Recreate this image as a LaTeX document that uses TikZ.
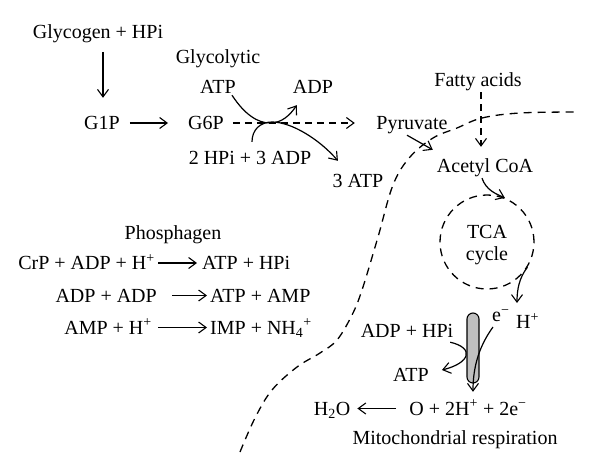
\documentclass[tikz,border=0pt]{standalone}
\usepackage{fontspec}
\setmainfont{Liberation Serif}
\usetikzlibrary{arrows.meta}
\begin{document}
\begin{tikzpicture}[x=1pt,y=-1pt,
  txt/.style={font=\fontsize{20}{20}\selectfont, inner xsep=3pt, inner ysep=0pt, text height=13.2pt, text depth=0pt},
  stxt/.style={font=\fontsize{20}{20}\selectfont, inner sep=0pt, text depth=0pt},
  arr/.style={line width=1.2pt, -{Straight Barb[length=7.5pt,width=11pt,line width=1.1pt]}},
  darr/.style={arr, dash pattern=on 7pt off 5pt},
  bound/.style={line width=1.3pt, dash pattern=on 8pt off 6pt},
  rodbox/.style={draw, line width=1.1pt, fill=gray!50, rounded corners=6pt, minimum width=12pt, minimum height=70pt, inner sep=0pt},
  cyc/.style={draw, circle, line width=1.3pt, dash pattern=on 8pt off 6pt, minimum size=94pt, inner sep=0pt}]
\useasboundingbox (0,0) rectangle (600,474);

% boundary
\draw[bound] plot[smooth, tension=0.6] coordinates {(240,452) (255,418) (272,390) (297,367) (320,353) (337,340) (352,315) (362,290) (378,237) (393,185) (410,157) (433,138) (457,128) (482,118) (520,113) (578,112)};

% glycogen / glycolysis
\node[txt] (gly) at (98,32) {Glycogen + HPi};
\node[txt] (g1p) at (102,123) {G1P};
\node[txt] (g6p) at (206,123) {G6P};
\node[txt] (glyc) at (218,57) {Glycolytic};
\node[txt] (atp1) at (218,87) {ATP};
\node[txt] (adp1) at (313,86.5) {ADP};
\node[txt] (hpi) at (250,158) {2 HPi + 3 ADP};
\node[txt] (atp3) at (358,181) {3 ATP};
\node[txt] (pyr) at (412,123) {Pyruvate};
\node[txt] (fa) at (478,80) {Fatty acids};
\node[txt] (acoa) at (485,166) {Acetyl CoA};

\draw[arr] ([xshift=5pt,yshift=-13pt]gly.south) -- ([xshift=1pt,yshift=18.4pt]g1p.north);
\draw[arr, shorten <=7pt, shorten >=17pt] (g1p.east) -- (g6p.west);
\draw[darr, shorten <=6pt, shorten >=18.5pt] (g6p.east) -- (pyr.west);
\draw[arr] ([xshift=-7pt,yshift=-1.4pt]atp1.south east) .. controls (245,115) and (258,123) .. (270,123) .. controls (282,123) and (290,115) .. ([xshift=7pt,yshift=-11.9pt]adp1.south west);
\draw[arr] ([xshift=2pt,yshift=9.4pt]hpi.north) .. controls (252,130) and (260,122) .. (272,122) .. controls (292,122) and (320,140) .. ([xshift=8.4pt,yshift=13.4pt]atp3.north west);
\draw[arr] ([xshift=-5pt,yshift=-5.4pt]pyr.south) -- ([xshift=-1pt,yshift=9.4pt]acoa.north west);
\draw[darr] ([xshift=3pt,yshift=-5.4pt]fa.south) -- ([xshift=-4pt,yshift=12.4pt]acoa.north);

% TCA
\node[cyc] (tca) at (487,242) {};
\node[txt] (tcat) at (487,232) {TCA};
\node[txt, anchor=south] (tcac) at (487,260.7) {cycle};
\draw[arr] ([xshift=-3pt,yshift=-5.4pt]acoa.south) .. controls (486,190) and (496,194) .. (tca.68);
\coordinate (tcaout) at (517,303);
\draw[arr] (tca.-32) .. controls (519,278) and (517,290) .. (tcaout);

% respiration
\node[stxt, anchor=south west] (em) at (492,322) {e\textsuperscript{−}};
\node[stxt, anchor=south west] (hp) at (516,329) {H\textsuperscript{+}};
\node[txt] (adph) at (407,331) {ADP + HPi};
\node[txt] (atp2) at (411,374.5) {ATP};
\node[txt] (o2) at (468,408.5) {O + 2H\textsuperscript{+} + 2e\textsuperscript{−}};
\node[txt] (h2o) at (332,408.5) {H\textsubscript{2}O};
\node[txt] (mito) at (455,438) {Mitochondrial respiration};
\draw[arr] ([xshift=-6.2pt,yshift=-4.4pt]adph.south east) .. controls (475,348) and (470,363) .. ([xshift=10pt,yshift=4.5pt]atp2.east);
\node[rodbox] (rod) at (473,348) {};
\draw[arr] ([xshift=1pt,yshift=-5pt]em.south west) .. controls (480,345) and (473,365) .. ([xshift=5pt,yshift=9.9pt]o2.north);
\draw[arr, shorten <=10pt, shorten >=4pt] (o2.west) -- (h2o.east);

% phosphagen
\node[txt] (phos) at (173,233) {Phosphagen};
\node[txt, anchor=east] (l1) at (158,263) {CrP + ADP + H\textsuperscript{+}};
\node[txt, anchor=west] (r1) at (199,263) {ATP + HPi};
\node[txt, anchor=east] (l2) at (160,295.5) {ADP + ADP};
\node[txt, anchor=west] (r2) at (207,295.5) {ATP + AMP};
\node[txt, anchor=east] (l3) at (155,327.5) {AMP + H\textsuperscript{+}};
\node[txt, anchor=west] (r3) at (207,327.5) {IMP + NH\textsubscript{4}\textsuperscript{+}};
\draw[arr, shorten >=2pt] (l1.east) -- (r1.west);
\draw[arr, shorten <=12pt] (l2.east) -- (r2.west);
\draw[arr, shorten <=3pt] (l3.east) -- (r3.west);
\end{tikzpicture}
\end{document}
